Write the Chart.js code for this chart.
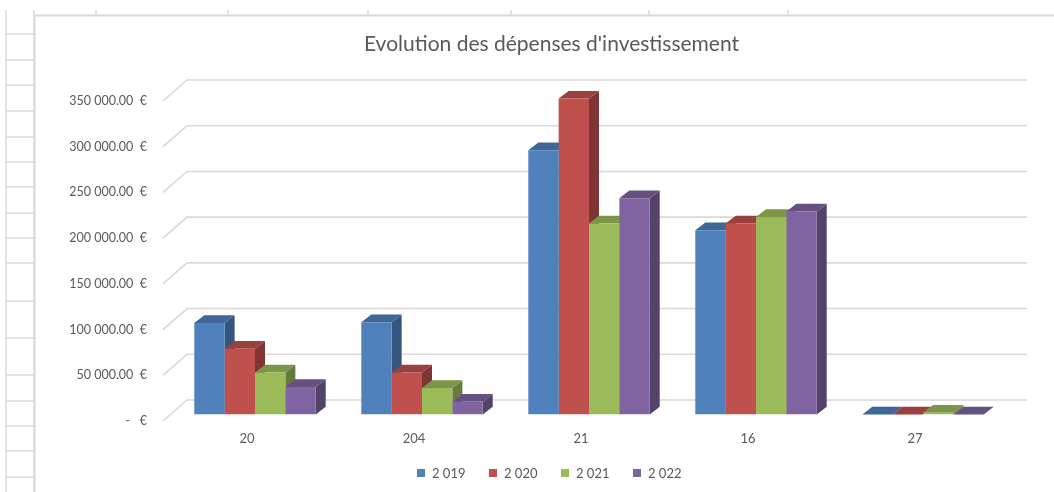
<!DOCTYPE html>
<html lang="fr">
<head>
<meta charset="utf-8">
<title>Evolution des dépenses d'investissement</title>
<script src="https://cdn.jsdelivr.net/npm/chart.js@4.4.1/dist/chart.umd.min.js"></script>
<style>
  html, body { margin: 0; padding: 0; background: #fff; }
  #wrap { position: relative; width: 1054px; height: 492px; overflow: hidden; font-family: Lato, "Open Sans", sans-serif; color: #595959; }
  #depensesChart { position: absolute; left: 0; top: 0; }
  #chartTitle { position: absolute; left: 0; top: 31px; width: 1103px; text-align: center; font-size: 21px; line-height: 24px; }
  #chartLegend { position: absolute; left: 417px; top: 465px; height: 16px; white-space: nowrap; font-size: 13px; line-height: 16px; }
  #chartLegend .item { display: inline-block; width: 72px; }
  #chartLegend .box { display: inline-block; width: 8px; height: 8px; margin-right: 7px; vertical-align: 1px; }
</style>
</head>
<body>
<div id="wrap">
  <canvas id="depensesChart" width="1054" height="492"></canvas>
  <div id="chartTitle"></div>
  <div id="chartLegend"></div>
</div>
<script>
const chartTitle = "Evolution des dépenses d'investissement";
const categories = ['20', '204', '21', '16', '27'];
const seriesNames = ['2\u00a0019', '2\u00a0020', '2\u00a0021', '2\u00a0022'];
const values2019 = [100000, 101000, 289000, 201500, 0];
const values2020 = [72000, 46000, 345500, 209000, 0];
const values2021 = [46000, 29000, 209000, 216000, 2000];
const values2022 = [30000, 14000, 236500, 222000, 0];
const yMax = 350000;
const yStep = 50000;
const seriesColors = ['#4F81BD', '#C0504D', '#9BBB59', '#8064A2'];

const textColor = '#595959';
const fontFamily = 'Lato, "Open Sans", sans-serif';

// depth of the 3D bars and of the back wall, in pixels
const barDx = 10, barDy = 7.7;
const wallDx = 24, wallDy = 21;

function shade(hex, f) {
    const n = parseInt(hex.slice(1), 16);
    const r = Math.round(((n >> 16) & 255) * f);
    const g = Math.round(((n >> 8) & 255) * f);
    const b = Math.round((n & 255) * f);
    return `rgb(${r}, ${g}, ${b})`;
}

function euroLabel(v) {
    if (v === 0) return '-\u00a0\u00a0\u00a0€';
    const parts = v.toFixed(2).split('.');
    const intPart = parts[0].replace(/\B(?=(\d{3})+(?!\d))/g, '\u00a0');
    return intPart + '.' + parts[1] + '\u00a0\u00a0€';
}

// Excel sheet behind the chart object
const sheetBackground = {
    id: 'sheetBackground',
    beforeDraw(chart) {
        const ctx = chart.ctx;
        ctx.save();
        ctx.fillStyle = '#fff';
        ctx.fillRect(0, 0, chart.width, chart.height);
        ctx.strokeStyle = '#dadada';
        ctx.lineWidth = 1.5;
        ctx.beginPath();
        [6, 34].forEach(x => { ctx.moveTo(x, 10); ctx.lineTo(x, chart.height); });
        [34, 60, 85, 111, 137, 162, 187, 213, 238, 263, 301, 338, 375, 401, 426, 451, 477].forEach(y => {
            ctx.moveTo(6, y); ctx.lineTo(34, y);
        });
        [96, 228, 368, 511, 649, 788].forEach(x => { ctx.moveTo(x, 10); ctx.lineTo(x, 15); });
        ctx.stroke();
        ctx.strokeStyle = '#d9d9d9';
        ctx.lineWidth = 2;
        ctx.beginPath();
        ctx.moveTo(34, 15.5); ctx.lineTo(chart.width, 15.5);
        ctx.moveTo(34.5, 15.5); ctx.lineTo(34.5, chart.height);
        ctx.stroke();
        ctx.restore();
    }
};

// back wall gridlines, side wall lines and the 3D top / side faces of the columns
const columns3d = {
    id: 'columns3d',
    beforeDatasetsDraw(chart) {
        const ctx = chart.ctx;
        const y = chart.scales.y;
        const area = chart.chartArea;
        ctx.save();
        ctx.strokeStyle = '#d9d9d9';
        ctx.lineWidth = 1.6;
        ctx.beginPath();
        y.ticks.forEach(t => {
            const yb = y.getPixelForValue(t.value) - 14.5;
            const xb = area.left + 15.5;
            ctx.moveTo(xb - wallDx, yb + wallDy);
            ctx.lineTo(xb, yb);
            ctx.lineTo(area.right + 20.5, yb);
        });
        ctx.stroke();

        for (let i = 0; i < categories.length; i++) {
            chart.data.datasets.forEach((ds, d) => {
                const bar = chart.getDatasetMeta(d).data[i];
                const p = bar.getProps(['x', 'y', 'base', 'width'], true);
                const x0 = p.x - p.width / 2, x1 = p.x + p.width / 2;
                const top = Math.min(p.y, p.base), bottom = Math.max(p.y, p.base);
                ctx.fillStyle = shade(seriesColors[d], 0.66);
                ctx.beginPath();
                ctx.moveTo(x1, top);
                ctx.lineTo(x1 + barDx, top - barDy);
                ctx.lineTo(x1 + barDx, bottom - barDy);
                ctx.lineTo(x1, bottom);
                ctx.closePath();
                ctx.fill();
                ctx.fillStyle = shade(seriesColors[d], 0.8);
                ctx.beginPath();
                ctx.moveTo(x0, top);
                ctx.lineTo(x1, top);
                ctx.lineTo(x1 + barDx, top - barDy);
                ctx.lineTo(x0 + barDx, top - barDy);
                ctx.closePath();
                ctx.fill();
            });
        }
        ctx.restore();
    }
};

const allValues = [values2019, values2020, values2021, values2022];

document.getElementById('chartTitle').textContent = chartTitle;
document.getElementById('chartLegend').innerHTML = seriesNames.map((name, i) =>
    `<span class="item"><span class="box" style="background:${seriesColors[i]}"></span>${name}</span>`
).join('');

new Chart(document.getElementById('depensesChart'), {
    type: 'bar',
    data: {
        labels: categories,
        datasets: allValues.map((vals, i) => ({
            label: seriesNames[i],
            data: vals,
            backgroundColor: seriesColors[i],
            borderWidth: 0,
            barPercentage: 1,
            categoryPercentage: 0.727
        }))
    },
    options: {
        responsive: false,
        animation: false,
        devicePixelRatio: 1,
        layout: { padding: { left: 0, right: 47.5, top: 94.5, bottom: 37.5 } },
        plugins: {
            legend: { display: false },
            tooltip: { enabled: false }
        },
        scales: {
            x: {
                offset: true,
                grid: { display: false, drawTicks: false },
                border: { display: false },
                ticks: { color: textColor, font: { family: fontFamily, size: 13 }, padding: 16.7, labelOffset: -8 },
                afterFit: s => { s.height = 40; }
            },
            y: {
                min: 0,
                max: yMax,
                grid: { display: false, drawTicks: false },
                border: { display: false },
                ticks: {
                    stepSize: yStep,
                    padding: 24.5,
                    labelOffset: 6.5,
                    color: textColor,
                    font: { family: fontFamily, size: 12.5 },
                    callback: v => euroLabel(v)
                },
                afterFit: s => { s.width = 171.5; }
            }
        }
    },
    plugins: [sheetBackground, columns3d]
});
</script>
</body>
</html>
